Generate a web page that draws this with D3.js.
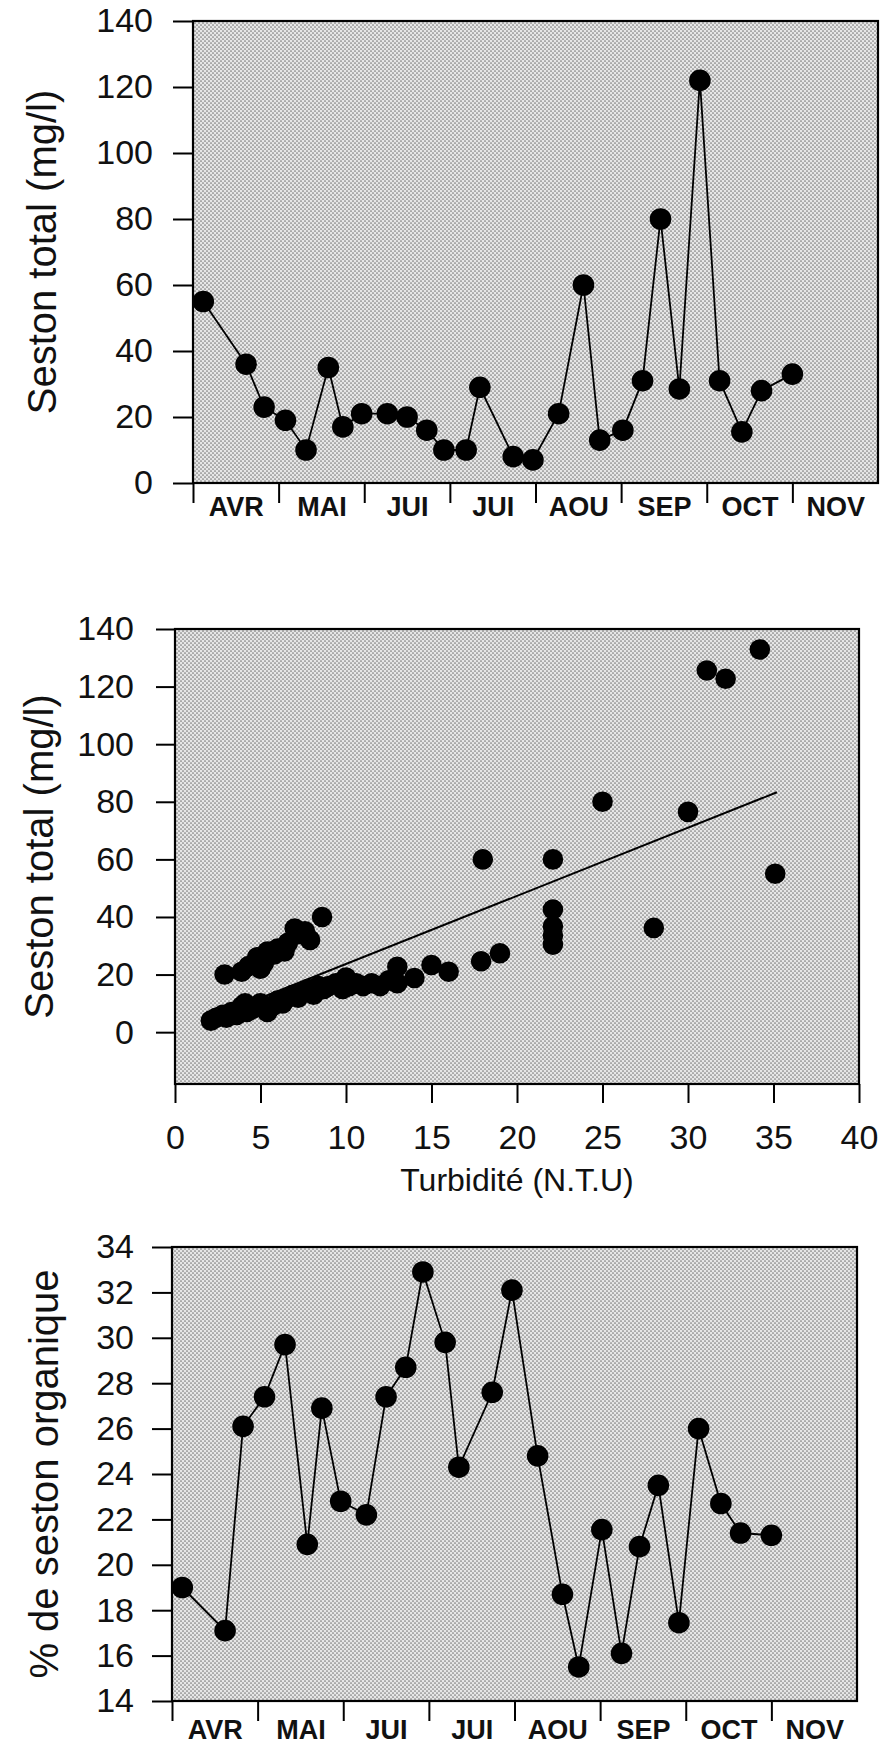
<!DOCTYPE html>
<html><head><meta charset="utf-8">
<script src="https://cdn.jsdelivr.net/npm/d3@7/dist/d3.min.js"></script>
<style>
body{margin:0;background:#fff}
svg{display:block}
text{font-family:"Liberation Sans",Arial,Helvetica,sans-serif;fill:#111}
</style>
</head><body>
<svg id="chart" width="882" height="1744"></svg>
<script>
// ---------- DATA ----------
const months = ["AVR","MAI","JUI","JUI","AOU","SEP","OCT","NOV"];
// sampling dates, in months elapsed since 1 April
const sampleMonth = [0.12,0.62,0.83,1.08,1.32,1.58,1.75,1.97,2.27,2.50,2.73,2.93,3.19,3.35,
                     3.74,3.97,4.27,4.56,4.75,5.02,5.25,5.46,5.68,5.92,6.15,6.41,6.64,7.00];
const sestonTotal = [55,36,23,19,10,35,17,21,21,20,16,10,10,29,8,7,21,60,13,16,31,80,28.5,122,31,15.5,28,33];
const sestonOrganique = [19.0,17.1,26.1,27.4,29.7,20.9,26.9,22.8,22.2,27.4,28.7,32.9,29.8,24.3,
                         27.6,32.1,24.8,18.7,15.5,21.55,16.1,20.8,23.5,17.45,26.0,22.7,21.4,21.3];
const totalTicks = [0,20,40,60,80,100,120,140];
const organiqueTicks = [14,16,18,20,22,24,26,28,30,32,34];
const turbTicks = [0,5,10,15,20,25,30,35,40];

// scatter: turbidity (NTU) vs total seston (mg/l)
const turbidite = [
  2.9,3.9,4.3,4.8,5.0,5.2,5.4,5.8,6.0,6.4,6.6,7.0,7.2,7.6,7.9,8.6,
  2.1,2.4,2.8,3.0,3.3,3.6,3.9,4.1,4.2,4.5,4.8,5.0,5.4,5.7,6.0,6.3,6.6,6.9,7.2,7.5,7.8,8.1,8.4,8.7,9.0,9.4,9.8,10.0,10.2,10.6,11.0,11.5,12.0,12.5,13.0,
  13.0,14.0,15.0,16.0,17.9,19.0,18.0,22.1,22.1,22.1,22.1,22.1,28.0,25.0,30.0,35.1,31.1,32.2,34.2];
const sestonScatter = [
  20,21,23,26,22,24,28,27,29,28,31,36,34,35,32,40,
  4,5,6,5,7,6,9,10,7,8,9,10,7,9,11,10,12,13,12,14,15,13,16,15,16,17,15,19,16,17,16,17,16,18,17,
  22.7,18.8,23.3,21,24.6,27.4,60,60,42.6,36.8,33.6,30.4,36.2,80,76.5,55,125.6,122.7,132.9];
const regressionX = [3.0, 35.2];
const regressionY = [7.1, 83.3];

// ---------- DRAWING ----------
const svg = d3.select("#chart");
svg.append("rect").attr("width",882).attr("height",1744).attr("fill","#fff");

const defs = svg.append("defs");
const pat = defs.append("pattern").attr("id","stipple").attr("patternUnits","userSpaceOnUse")
  .attr("width",4).attr("height",4);
pat.append("rect").attr("width",4).attr("height",4).attr("fill","#e6e6e6");
pat.append("circle").attr("cx",1).attr("cy",1).attr("r",0.85).attr("fill","#7a7a7a");
pat.append("circle").attr("cx",3).attr("cy",3).attr("r",0.85).attr("fill","#7a7a7a");

function styleAxis(g, size, bold){
  g.attr("font-family",null).attr("font-size",null);
  g.select(".domain").remove();
  g.selectAll(".tick line").attr("stroke","#000").attr("stroke-width",2);
  g.selectAll(".tick text").attr("font-size",size).attr("font-weight",bold?"bold":"normal").attr("fill","#111");
}

function frame(b){
  svg.append("rect").attr("x",b.l).attr("y",b.t).attr("width",b.r-b.l).attr("height",b.b-b.t)
    .attr("fill","url(#stipple)");
}
function frameBorder(b){
  svg.append("rect").attr("x",b.l).attr("y",b.t).attr("width",b.r-b.l).attr("height",b.b-b.t)
    .attr("fill","none").attr("stroke","#000").attr("stroke-width",2.2);
}

function yTitle(text, x, cy){
  svg.append("text").attr("transform",`translate(${x},${cy}) rotate(-90)`)
    .attr("text-anchor","middle").attr("font-size",40).text(text);
}

function monthPanel(b, values, yDomain, yTicks, pad, labelPad, title, titleX){
  frame(b);
  const x = d3.scaleLinear().domain([0,8]).range([b.l,b.r]);
  const y = d3.scaleLinear().domain(yDomain).range([b.b,b.t]);
  const ya = svg.append("g").attr("transform",`translate(${b.l},0)`)
    .call(d3.axisLeft(y).tickValues(yTicks).tickSize(20).tickPadding(pad).tickFormat(d3.format("d")));
  styleAxis(ya, 34, false);
  const xt = svg.append("g").attr("transform",`translate(0,${b.b})`)
    .call(d3.axisBottom(x).tickValues(d3.range(0,8)).tickSize(20).tickFormat(""));
  styleAxis(xt, 27, true);
  const xl = svg.append("g").attr("transform",`translate(0,${b.b})`)
    .call(d3.axisBottom(x).tickValues(d3.range(0.5,8,1)).tickSize(0).tickPadding(labelPad)
      .tickFormat(d => months[Math.floor(d)]));
  styleAxis(xl, 27, true);
  xl.selectAll(".tick line").remove();
  frameBorder(b);
  const pts = sampleMonth.map((m,i)=>[m, values[i]]);
  svg.append("path").datum(pts)
    .attr("d", d3.line().x(d=>x(d[0])).y(d=>y(d[1])))
    .attr("fill","none").attr("stroke","#000").attr("stroke-width",1.8);
  svg.append("g").selectAll("circle").data(pts).join("circle")
    .attr("cx",d=>x(d[0])).attr("cy",d=>y(d[1])).attr("r",10.8).attr("fill","#000");
  yTitle(title, titleX, (b.t+b.b)/2);
}

// Panel 1
monthPanel({l:193,r:878,t:21,b:483}, sestonTotal, [0,140], totalTicks, 20, 14,
  "Seston total (mg/l)", 56);

// Panel 2 (scatter)
(function(){
  const b = {l:175,r:859,t:629,b:1084};
  frame(b);
  const x = d3.scaleLinear().domain([0,40]).range([b.l,b.r]);
  const y = d3.scaleLinear().domain([-18,140]).range([b.b,b.t]);
  const ya = svg.append("g").attr("transform",`translate(${b.l},0)`)
    .call(d3.axisLeft(y).tickValues(totalTicks).tickSize(19).tickPadding(22).tickFormat(d3.format("d")));
  styleAxis(ya, 34, false);
  const xa = svg.append("g").attr("transform",`translate(0,${b.b})`)
    .call(d3.axisBottom(x).tickValues(turbTicks).tickSize(19).tickPadding(22).tickFormat(d3.format("d")));
  styleAxis(xa, 34, false);
  frameBorder(b);
  const reg = regressionX.map((v,i)=>[v, regressionY[i]]);
  svg.append("path").datum(reg)
    .attr("d", d3.line().x(d=>x(d[0])).y(d=>y(d[1])))
    .attr("stroke","#000").attr("stroke-width",2).attr("fill","none");
  svg.append("g").selectAll("circle").data(turbidite.map((t,i)=>[t, sestonScatter[i]])).join("circle")
    .attr("cx",d=>x(d[0])).attr("cy",d=>y(d[1])).attr("r",10.3).attr("fill","#000");
  svg.append("text").attr("x",(b.l+b.r)/2).attr("y",1191).attr("text-anchor","middle")
    .attr("font-size",32).text("Turbidité (N.T.U)");
  yTitle("Seston total (mg/l)", 53, (b.t+b.b)/2);
})();

// Panel 3
monthPanel({l:172,r:857,t:1247,b:1701}, sestonOrganique, [14,34], organiqueTicks, 18, 19,
  "% de seston organique", 58);
</script>
</body></html>
